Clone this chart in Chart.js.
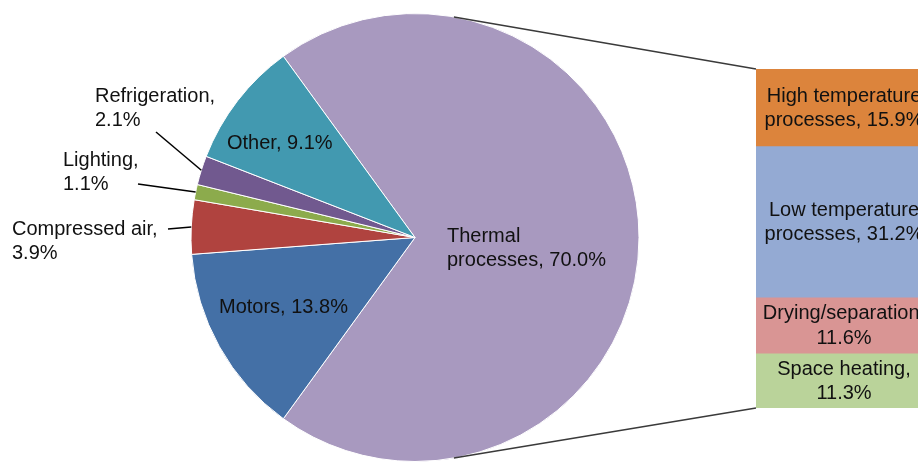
<!DOCTYPE html>
<html>
<head>
<meta charset="utf-8">
<script src="https://cdn.jsdelivr.net/npm/chart.js@4"></script>
<style>
    html, body { margin: 0; padding: 0; background: #fff; overflow: hidden; }
    #wrap { position: relative; width: 918px; height: 462px; overflow: hidden; }
    #pieChart { position: absolute; left: 0; top: 0; }
    #barChart { position: absolute; left: 756px; top: 0; }
</style>
</head>
<body>
<div id="wrap">
    <canvas id="pieChart" width="918" height="462"></canvas>
    <canvas id="barChart" width="176" height="462"></canvas>
</div>
<script>
// pie: share of industrial energy use
const pieLabels = ['Thermal processes', 'Motors', 'Compressed air', 'Lighting', 'Refrigeration', 'Other'];
const pieValues = [70.0, 13.8, 3.9, 1.1, 2.1, 9.1];
const pieColors = ['#a899bf', '#4470a6', '#b0433f', '#8cab4c', '#71598f', '#4299b0'];

// bar: breakdown of the thermal slice
const barLabels = ['High temperature processes', 'Low temperature processes', 'Drying/separation', 'Space heating'];
const barValues = [15.9, 31.2, 11.6, 11.3];
const barColors = ['#dc843c', '#94aad3', '#d99594', '#bad39a'];

const FONT = '20px "Liberation Sans", Arial, sans-serif';
const TEXT = '#111';
const LINE_H = 24.5;

// where each pie label goes (left edge of text block, first line y) and leader start
const pieLabelPos = [
    { x: 447, y: 236, split: 'word' },
    { x: 219, y: 307, split: 'none' },
    { x: 12, y: 229, split: 'comma', lead: [168, 229] },
    { x: 63, y: 160, split: 'comma', lead: [138, 184] },
    { x: 95, y: 96, split: 'comma', lead: [156, 132] },
    { x: 227, y: 143, split: 'none' }
];

function pieLines(i) {
    const label = pieLabels[i];
    const val = pieValues[i].toFixed(1) + '%';
    const mode = pieLabelPos[i].split;
    if (mode === 'word') {
        const k = label.indexOf(' ');
        return [label.slice(0, k), label.slice(k + 1) + ', ' + val];
    }
    if (mode === 'comma') return [label + ',', val];
    return [label + ', ' + val];
}

function barLines(i) {
    const label = barLabels[i];
    const val = barValues[i].toFixed(1) + '%';
    const k = label.indexOf(' processes');
    if (k >= 0) return [label.slice(0, k), 'processes, ' + val];
    return [label + ',', val];
}

const barLabelPlugin = {
    id: 'barText',
    afterDatasetsDraw(chart) {
        const ctx = chart.ctx;
        ctx.save();
        ctx.font = FONT;
        ctx.fillStyle = TEXT;
        ctx.textAlign = 'center';
        ctx.textBaseline = 'middle';
        chart.data.datasets.forEach((ds, i) => {
            const bar = chart.getDatasetMeta(i).data[0];
            const mid = (bar.y + bar.base) / 2;
            const lines = barLines(i);
            const y0 = mid - (lines.length - 1) * LINE_H / 2 + 1;
            lines.forEach((t, j) => ctx.fillText(t, bar.x, y0 + j * LINE_H));
        });
        ctx.restore();
    }
};

const barChart = new Chart(document.getElementById('barChart'), {
    type: 'bar',
    data: {
        labels: ['Thermal'],
        datasets: barLabels.map((l, i) => ({
            label: l,
            data: [barValues[i]],
            backgroundColor: barColors[i],
            borderColor: '#ffffff',
            borderWidth: { top: 1, bottom: 0, left: 0, right: 0 },
            barPercentage: 1,
            categoryPercentage: 1
        }))
    },
    options: {
        responsive: false,
        animation: false,
        layout: { padding: { top: 69, bottom: 54, left: 0, right: 0 } },
        plugins: { legend: { display: false }, tooltip: { enabled: false } },
        scales: {
            x: { display: false, stacked: true },
            y: { display: false, stacked: true, min: 0, max: 70, reverse: true }
        }
    },
    plugins: [barLabelPlugin]
});

const pieExtras = {
    id: 'pieExtras',
    afterDatasetsDraw(chart) {
        const ctx = chart.ctx;
        const arcs = chart.getDatasetMeta(0).data;
        const cx = arcs[0].x, cy = arcs[0].y, r = arcs[0].outerRadius;

        ctx.save();
        // connector lines to the bar
        const area = barChart.chartArea;
        const bx = barChart.canvas.offsetLeft + area.left;
        const a = 80 * Math.PI / 180;
        ctx.strokeStyle = '#3a3a3a';
        ctx.lineWidth = 1.5;
        ctx.beginPath();
        ctx.moveTo(cx + r * Math.cos(-a), cy + r * Math.sin(-a));
        ctx.lineTo(bx, area.top);
        ctx.moveTo(cx + r * Math.cos(a), cy + r * Math.sin(a));
        ctx.lineTo(bx, area.bottom);
        ctx.stroke();

        // labels and leader lines
        ctx.font = FONT;
        ctx.fillStyle = TEXT;
        ctx.textAlign = 'left';
        ctx.textBaseline = 'middle';
        ctx.strokeStyle = '#000';
        ctx.lineWidth = 1.5;
        arcs.forEach((arc, i) => {
            const pos = pieLabelPos[i];
            pieLines(i).forEach((t, j) => ctx.fillText(t, pos.x, pos.y + j * LINE_H));
            if (pos.lead) {
                const mid = (arc.startAngle + arc.endAngle) / 2;
                ctx.beginPath();
                ctx.moveTo(pos.lead[0], pos.lead[1]);
                ctx.lineTo(cx + r * Math.cos(mid), cy + r * Math.sin(mid));
                ctx.stroke();
            }
        });
        ctx.restore();
    }
};

new Chart(document.getElementById('pieChart'), {
    type: 'pie',
    data: {
        labels: pieLabels,
        datasets: [{
            data: pieValues,
            backgroundColor: pieColors,
            borderColor: '#ffffff',
            borderWidth: 1
        }]
    },
    options: {
        responsive: false,
        animation: false,
        rotation: -36,
        layout: { padding: { top: 13, bottom: 0, left: 190, right: 278 } },
        plugins: { legend: { display: false }, tooltip: { enabled: false } }
    },
    plugins: [pieExtras]
});
</script>
</body>
</html>
